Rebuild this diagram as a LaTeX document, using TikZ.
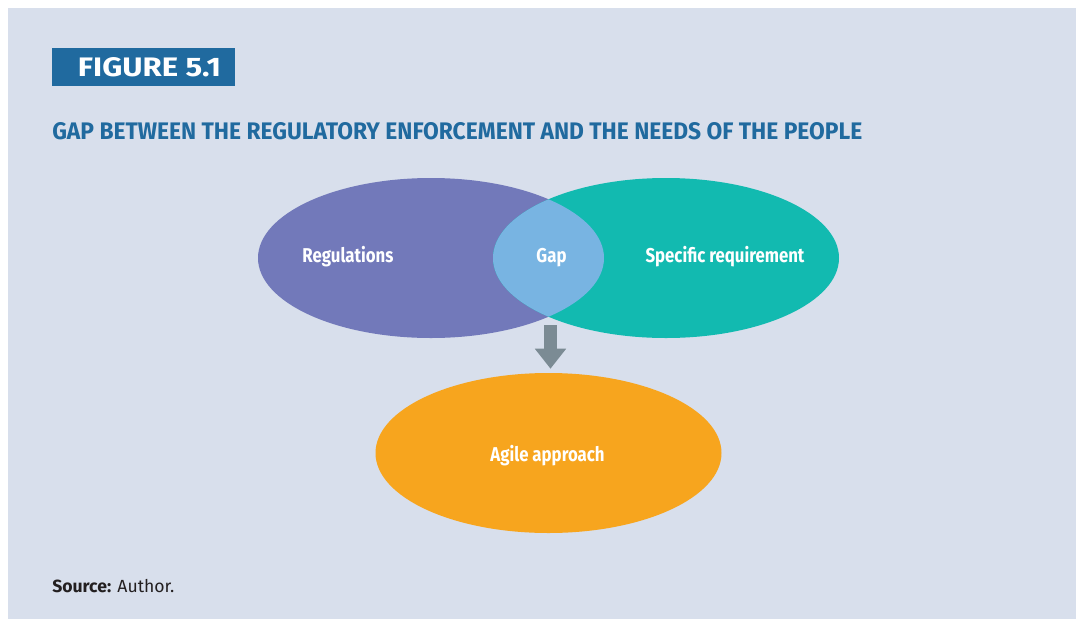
\documentclass[tikz,border=0pt]{standalone}
\usepackage{fontspec}
\setmainfont{Fira Sans}
\newfontfamily\condfont{Fira Sans}[FakeStretch=0.84]
\usepackage{tikz}
\usetikzlibrary{shapes.geometric,arrows.meta,calc}

\definecolor{bgpanel}{HTML}{D8DFEC}
\definecolor{figblue}{HTML}{206A9F}
\definecolor{regpurple}{HTML}{7279BA}
\definecolor{reqteal}{HTML}{12BAB0}
\definecolor{gapblue}{HTML}{78B4E2}
\definecolor{agileorange}{HTML}{F7A51E}
\definecolor{arrowgray}{HTML}{7B8B94}
\definecolor{sourceink}{HTML}{231F20}

\tikzset{
  blob/.style={ellipse, minimum width=259.5pt, minimum height=120pt, inner sep=0pt},
  lbl/.style={text=white, font=\condfont\bfseries\fontsize{15}{18}\selectfont, anchor=base, inner sep=0pt},
  bigarrow/.style={arrowgray, line width=9.75pt, -{Triangle[width=22.5pt,length=15pt]}}
}

\begin{document}
\begin{tikzpicture}[x=0.75pt,y=-0.75pt]
    % panel
    \useasboundingbox (0,0) rectangle (1076,619);
    \fill[white] (0,0) rectangle (1076,619);
    \fill[bgpanel] (8,8) rectangle (1076,619);

    % heading
    \node[fill=figblue, minimum width=137.25pt, minimum height=28.5pt, inner sep=0pt] (figbox) at (143.5,67) {};
    \node[anchor=base, inner sep=0pt, text=white] (figtext) at (149.5,76) {\resizebox{107.25pt}{14.25pt}{\bfseries FIGURE 5.1}};
    \node[anchor=base west, inner sep=0pt, text=figblue] (title) at (52,139) {\resizebox{607.5pt}{12.75pt}{\condfont\bfseries GAP BETWEEN THE REGULATORY ENFORCEMENT AND THE NEEDS OF THE PEOPLE}};

    % venn
    \node[blob, fill=regpurple] (reg) at (431,258) {};
    \node[blob, fill=reqteal] (req) at (666,258) {};
    \begin{scope}
        \clip (reg.center) ellipse [x radius=129.75pt, y radius=60pt];
        \fill[gapblue] (req.center) ellipse [x radius=129.75pt, y radius=60pt];
    \end{scope}
    \node[lbl] (reglbl) at (348,262) {Regulations};
    \node[lbl] (gaplbl) at (551.5,262) {Gap};
    \node[lbl] (reqlbl) at (725,262) {Specific requirement};

    % outcome
    \node[blob, fill=agileorange] (agile) at (548.5,453) {};
    \node[lbl] (agilelbl) at (547.5,461) {Agile approach};
    \coordinate (arrowtop) at (550.5,325);
    \draw[bigarrow, shorten >=3pt] (arrowtop) -- (arrowtop |- agile.north);

    \node[anchor=base west, inner sep=0pt, text=sourceink, font=\fontsize{13.2}{16}\selectfont] (source) at (52,592.5) {\textbf{Source:} Author.};
\end{tikzpicture}
\end{document}
